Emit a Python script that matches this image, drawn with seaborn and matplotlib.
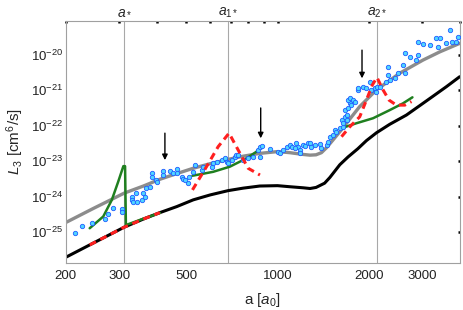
import matplotlib
matplotlib.use("Agg")
import matplotlib.pyplot as plt
import numpy as np
import pandas as pd
import seaborn as sns
from matplotlib.ticker import FixedLocator, FixedFormatter, NullFormatter, NullLocator

# curves (a in a0, L3 as log10 of cm^6/s)
gray_a = [200, 247, 312, 361, 409, 465, 527, 600, 687, 770, 874, 1000, 1098, 1215, 1280, 1340, 1396, 1451, 1525,
          1609, 1689, 1867, 2121, 2531, 3020, 3429, 3990]
gray_log = [-24.73, -24.33, -23.90, -23.70, -23.51, -23.35, -23.20, -23.07, -22.95, -22.86, -22.78, -22.73, -22.76,
            -22.81, -22.83, -22.82, -22.76, -22.62, -22.40, -22.16, -21.93, -21.46, -20.99, -20.52, -20.15, -19.92,
            -19.68]

black_a = [200, 240, 312, 361, 409, 465, 527, 600, 687, 770, 874, 1000, 1098, 1215, 1280, 1340, 1430, 1488, 1605,
           1709, 1840, 1965, 2120, 2346, 2662, 2940, 3258, 3608, 3990]
black_log = [-25.71, -25.36, -24.86, -24.63, -24.45, -24.28, -24.09, -23.95, -23.83, -23.76, -23.70, -23.69, -23.72,
             -23.75, -23.77, -23.74, -23.62, -23.46, -23.10, -22.88, -22.65, -22.42, -22.20, -21.96, -21.70, -21.44,
             -21.17, -20.90, -20.62]

green_seg = [1, 1, 1, 1, 1, 1, 1, 1, 1, 2, 2, 2, 2, 2, 2, 3, 3, 3, 3, 3, 3]
green_a = [240, 266, 284, 298, 310, 314, 316, 361, 409,
           524, 613, 696, 790, 853, 885,
           1626, 1822, 2066, 2346, 2594, 2787]
green_log = [-24.89, -24.56, -24.09, -23.58, -23.14, -23.14, -24.80, -24.62, -24.46,
             -23.41, -23.30, -23.155, -22.92, -22.73, -22.61,
             -22.07, -21.93, -21.79, -21.56, -21.37, -21.20]

red_seg = [1, 1, 1, 1, 2, 2, 2, 2, 2, 2, 2, 3, 3, 3, 3, 3, 3, 3, 3, 3, 3, 3]
red_a = [240, 312, 361, 409,
         524, 583, 637, 692, 741, 800, 875,
         1626, 1732, 1867, 1964, 2056, 2129, 2229, 2334, 2468, 2630, 2767]
red_log = [-25.36, -24.86, -24.63, -24.45,
           -23.81, -23.155, -22.59, -22.21, -22.68, -23.20, -23.39,
           -22.31, -22.03, -21.75, -21.28, -20.85, -20.64, -20.99, -21.28, -21.42, -21.42, -21.32]

pts_a = [215, 227, 245, 270, 275, 287, 307, 307, 330, 330, 333, 343, 341, 356, 359, 365, 367, 379, 384, 386,
         396, 401, 420, 420, 442, 453, 465, 467, 484, 488, 507, 511,
         495, 527, 534, 562, 569, 606, 613, 629, 654, 670, 679, 687, 705, 723, 732, 741, 770, 800, 831, 863,
         874, 892, 874, 943, 1005, 1018, 1043, 1071, 1098, 1155, 1169, 1215, 1262,
         1112, 1140, 1184, 1184, 1230, 1278, 1294, 1327, 1379, 1396, 1451, 1468, 1488, 1525, 1545, 1565, 1605,
         1646, 1626, 1667, 1689, 1667, 1709, 1732, 1754, 1709, 1732, 1776, 1798, 1689, 1646, 1844, 1844, 1915,
         1965, 2015, 2041, 2093, 2109, 2130, 2174, 2288, 2316, 2316, 2346, 2437, 2498, 2595, 2628, 2628, 2730,
         2908, 2874, 2908, 3020, 3178, 3344, 3385, 3428, 3608, 3698, 3776, 3890, 3940]
pts_log = [-25.01, -24.82, -24.75, -24.63, -24.50, -24.33, -24.35, -24.42, -24.02, -24.09, -24.14, -24.14, -23.90,
           -24.09, -23.90, -24.00, -23.76, -23.72, -23.34, -23.44, -23.53, -23.58, -23.28, -23.39, -23.28, -23.32,
           -23.23, -23.34, -23.44, -23.51, -23.62, -23.44,
           -23.53, -23.30, -23.11, -23.25, -23.15, -23.17, -23.06, -23.01, -22.97, -22.92, -23.01, -23.06, -22.97,
           -22.87, -22.83, -22.83, -22.97, -22.92, -22.87, -22.68, -22.59, -22.57, -22.87, -22.66, -22.73, -22.78,
           -22.68, -22.59, -22.54, -22.50, -22.59, -22.54, -22.50,
           -22.59, -22.64, -22.68, -22.78, -22.57, -22.50, -22.61, -22.54, -22.52, -22.64, -22.54, -22.45, -22.31,
           -22.26, -22.12, -22.17, -22.07, -22.03, -21.84, -21.75, -21.70, -21.56, -21.51, -21.37, -21.42, -21.28,
           -21.23, -21.28, -21.32, -21.84, -21.93, -20.99, -20.95, -20.90, -20.95, -20.76, -20.99, -20.95, -21.04,
           -20.90, -20.90, -20.76, -20.34, -20.57, -20.71, -20.66, -20.52, -20.29, -19.96, -20.52, -20.06, -20.01,
           -20.15, -19.63, -19.70, -19.73, -19.54, -19.77, -19.54, -19.68, -19.30, -19.63, -19.63, -19.49]

# arrows: a, log10 of tip, log10 of tail
arrow_a = [425, 880, 1900]
arrow_tip = [-22.97, -22.355, -20.665]
arrow_tail = [-22.21, -21.50, -19.87]

res_a = [312, 687, 2130]
res_labels = ["$a_*$", "$a_{1*}$", "$a_{2*}$"]

x_major = [200, 300, 500, 1000, 2000, 3000]
x_minor = [400, 600, 700, 800, 900, 4000]
y_ticks = [1e-25, 1e-24, 1e-23, 1e-22, 1e-21, 1e-20]

sns.set_style("white")
plt.rcParams["font.family"] = ["Liberation Sans", "DejaVu Sans"]
plt.rcParams["mathtext.fontset"] = "custom"
plt.rcParams["mathtext.rm"] = "Liberation Sans"
plt.rcParams["mathtext.it"] = "Liberation Sans:italic"
plt.rcParams["mathtext.bf"] = "Liberation Sans:bold"

gray = pd.DataFrame({"a": gray_a, "L": 10.0 ** np.array(gray_log)})
black = pd.DataFrame({"a": black_a, "L": 10.0 ** np.array(black_log)})
green = pd.DataFrame({"a": green_a, "L": 10.0 ** np.array(green_log), "seg": green_seg})
red = pd.DataFrame({"a": red_a, "L": 10.0 ** np.array(red_log), "seg": red_seg})
pts = pd.DataFrame({"a": pts_a, "L": 10.0 ** np.array(pts_log)})

fig = plt.figure(figsize=(4.63, 3.10), dpi=100)
ax = fig.add_axes([0.1419, 0.1516, 0.8516, 0.7816])
ax.set_xscale("log")
ax.set_yscale("log")

for xa in res_a:
    ax.axvline(xa, color="#a8a8a8", lw=0.8, zorder=0)

sns.lineplot(data=gray, x="a", y="L", ax=ax, color="#8c8c8c", lw=2.4, sort=False, estimator=None)
sns.lineplot(data=black, x="a", y="L", ax=ax, color="black", lw=2.2, sort=False, estimator=None)
sns.lineplot(data=green, x="a", y="L", units="seg", ax=ax, color="#1f7f1f", lw=1.8, sort=False, estimator=None)
sns.scatterplot(data=pts, x="a", y="L", ax=ax, s=10, color="#4fd6ff", edgecolor="#1f5cff", linewidth=0.6, zorder=4)
sns.lineplot(data=red, x="a", y="L", units="seg", ax=ax, color="#ff1f1f", lw=2.2, sort=False, estimator=None,
             linestyle=(0, (2.3, 1.6)), zorder=5)

for xa, tip, tail in zip(arrow_a, arrow_tip, arrow_tail):
    ax.annotate("", xy=(xa, 10.0 ** tip), xytext=(xa, 10.0 ** tail),
                arrowprops=dict(arrowstyle="-|>", color="black", lw=1.0, mutation_scale=8, shrinkA=0, shrinkB=0))

for xa, lab in zip(res_a, res_labels):
    ax.text(xa, 1.022, lab, transform=ax.get_xaxis_transform(), ha="center", va="baseline", fontsize=10)

ax.set_xlim(200, 4000)
ax.set_ylim(1.35e-26, 9.1e-20)

ax.xaxis.set_major_locator(FixedLocator(x_major))
ax.xaxis.set_major_formatter(FixedFormatter([str(v) for v in x_major]))
ax.xaxis.set_minor_locator(FixedLocator(x_minor))
ax.xaxis.set_minor_formatter(NullFormatter())
ax.yaxis.set_major_locator(FixedLocator(y_ticks))
ax.yaxis.set_minor_locator(NullLocator())

ax.tick_params(axis="both", which="both", direction="in", length=1.6, width=1.8, color="black",
               top=True, right=True, labelsize=9.5, labelcolor="#222222")
ax.tick_params(axis="x", which="both", pad=5)
ax.tick_params(axis="y", which="both", pad=2)

for sp in ax.spines.values():
    sp.set_color("#a0a0a0")
    sp.set_linewidth(0.8)

ax.set_xlabel("a [$a_0$]", fontsize=11)
ax.set_ylabel("$L_3$ [cm$^6$/s]", fontsize=11)
ax.xaxis.set_label_coords(0.5, -0.115)
ax.yaxis.set_label_coords(-0.10, 0.5)

fig.savefig("out.png", dpi=100)
